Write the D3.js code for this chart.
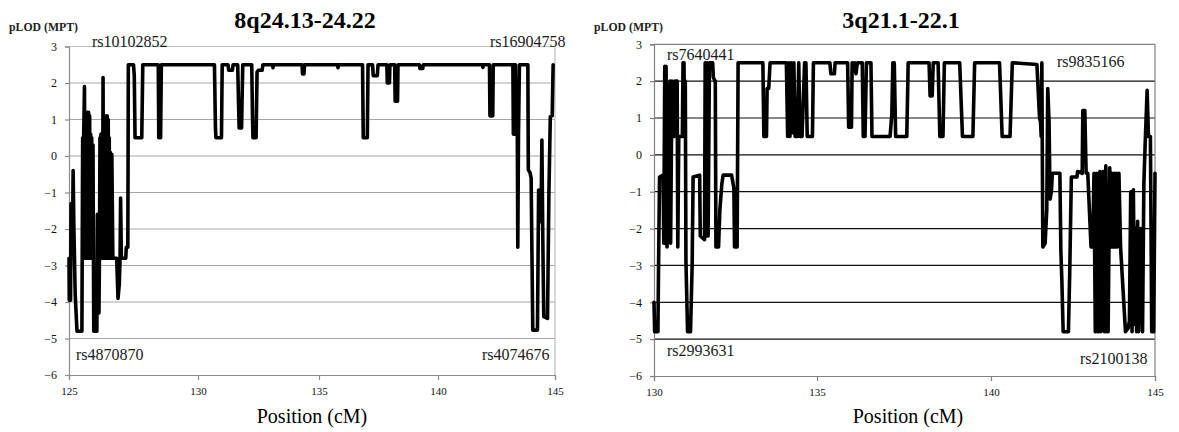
<!DOCTYPE html>
<html><head><meta charset="utf-8">
<script src="https://cdn.jsdelivr.net/npm/d3@7"></script>
<style>
body{margin:0;background:#fff;}
svg{display:block;font-family:"Liberation Serif","Times New Roman",serif;}
</style></head>
<body><svg id="c" width="1179" height="432"></svg>
<script>
// ---- data ----
const yTicks = [-6,-5,-4,-3,-2,-1,0,1,2,3];
const leftTitle = "8q24.13-24.22";
const rightTitle = "3q21.1-22.1";
const leftXTicks = [125,130,135,140,145];
const rightXTicks = [130,135,140,145];
const leftPos = [125.00,125.01,125.06,125.08,125.10,125.14,125.16,125.19,125.24,125.31,125.50,125.53,125.55,125.57,125.60,125.62,125.64,125.66,125.68,125.70,125.72,125.74,125.76,125.78,125.80,125.82,125.84,125.86,125.88,125.90,125.93,125.96,126.08,126.10,126.12,126.16,126.18,126.20,126.22,126.24,126.26,126.28,126.30,126.32,126.34,126.36,126.38,126.40,126.42,126.44,126.46,126.48,126.50,126.52,126.54,126.56,126.58,126.60,126.62,126.66,126.70,126.85,126.87,126.90,126.95,126.98,127.00,127.03,127.20,127.22,127.28,127.30,127.50,127.53,127.56,127.82,127.86,128.46,128.48,128.52,128.55,128.58,130.68,130.72,130.74,130.97,131.00,131.24,131.27,131.42,131.45,131.64,131.67,131.70,131.80,131.82,131.85,132.22,132.25,132.27,132.40,132.44,132.50,132.65,132.68,133.08,133.10,133.12,134.30,134.32,134.38,134.40,135.78,135.80,135.82,136.83,136.86,137.03,137.06,137.25,137.28,137.45,137.48,137.85,137.87,137.96,137.98,138.18,138.20,138.30,138.32,139.22,139.24,139.36,139.38,141.90,141.92,141.94,142.20,142.22,142.34,142.36,143.20,143.22,143.25,143.28,143.31,143.34,143.38,143.41,143.44,143.48,143.84,143.86,143.93,143.98,144.05,144.25,144.30,144.36,144.40,144.44,144.48,144.52,144.68,144.74,144.80,144.88,144.92];
const leftLOD = [-2.8,-3.95,-3.95,-1.3,-2.1,-2.0,-0.4,-2.0,-3.8,-4.8,-4.8,0.5,-2.8,0.6,1.9,-2.8,0.5,-2.8,1.2,-2.8,1.2,-2.6,1.2,-2.8,1.1,-2.8,0.6,-2.8,0.5,-2.8,0.3,-4.8,-4.8,-1.6,-2.8,-4.3,-2.8,0.5,-2.8,0.6,-2.8,0.6,-2.8,2.15,-2.8,0.6,-2.8,0.5,-2.8,1.1,-2.8,1.1,-2.8,1.0,-2.8,0.5,-2.8,0.1,-2.8,0.05,-2.8,-2.8,-3.3,-3.9,-3.5,-2.8,-1.15,-2.8,-2.8,-2.5,-2.5,2.5,2.5,2.2,0.5,0.5,2.5,2.5,0.5,2.3,0.5,2.5,2.5,0.8,0.5,0.5,2.5,2.5,2.35,2.35,2.5,2.5,1.6,0.77,0.77,1.5,2.5,2.5,1.2,0.5,0.5,2.3,2.35,2.35,2.5,2.5,2.42,2.5,2.5,2.25,2.25,2.5,2.5,2.42,2.5,2.5,0.5,0.5,2.5,2.5,2.2,2.2,2.5,2.5,2.0,2.0,2.5,2.5,1.5,1.5,2.5,2.5,2.4,2.4,2.5,2.5,2.43,2.5,2.5,1.1,1.1,2.5,2.5,0.6,2.5,0.6,2.5,0.6,2.0,-2.5,0.6,2.5,2.5,-0.38,-0.45,-0.6,-4.77,-4.77,-0.93,-1.0,-1.8,0.44,-2.35,-4.4,-4.45,-1.0,1.08,1.1,2.5];
const rightPos = [130.00,130.02,130.12,130.14,130.17,130.28,130.30,130.33,130.35,130.37,130.40,130.43,130.46,130.49,130.51,130.55,130.57,130.62,130.64,130.71,130.73,130.76,130.87,130.89,130.92,130.94,130.96,130.98,131.03,131.12,131.17,131.20,131.40,131.42,131.55,131.57,131.60,131.63,131.66,131.70,131.80,131.82,131.88,131.90,131.98,132.02,132.08,132.12,132.38,132.45,132.47,132.55,132.58,133.34,133.37,133.45,133.47,133.52,133.56,134.06,134.10,134.14,134.17,134.21,134.25,134.29,134.33,134.40,134.44,134.48,134.54,134.62,134.66,134.70,134.86,134.89,135.37,135.40,135.50,135.52,135.88,135.91,135.99,136.01,136.05,136.08,136.12,136.16,136.30,136.33,136.38,136.42,136.55,136.58,137.10,137.15,137.18,137.22,137.26,137.58,137.62,138.22,138.25,138.31,138.34,138.48,138.53,138.62,138.66,139.10,139.18,139.48,139.53,140.26,140.34,140.58,140.65,141.40,141.48,141.51,141.53,141.55,141.58,141.65,141.70,141.73,141.77,141.80,141.84,141.87,142.10,142.13,142.16,142.20,142.36,142.40,142.45,142.62,142.64,142.78,142.80,142.86,142.90,142.95,143.05,143.10,143.14,143.18,143.22,143.26,143.29,143.32,143.35,143.38,143.42,143.46,143.50,143.54,143.57,143.62,143.66,143.68,143.71,143.75,143.79,143.82,143.85,143.90,143.95,144.10,144.18,144.22,144.26,144.30,144.34,144.38,144.41,144.44,144.47,144.50,144.56,144.62,144.66,144.70,144.76,144.80,144.86,144.90,144.96,145.00];
const rightLOD = [-4.0,-4.8,-4.8,-3.0,-0.6,-0.55,-2.4,2.4,-2.4,2.4,-2.5,1.9,-2.3,2.0,-2.4,2.0,0.5,0.5,2.0,2.0,-2.5,0.5,0.5,2.5,2.5,0.5,2.0,-2.9,-4.8,-4.8,-3.0,-0.6,-0.55,-2.2,-2.3,2.5,-2.2,2.5,-2.2,2.5,2.5,2.1,2.0,-2.5,-2.5,-1.5,-0.8,-0.55,-0.55,-0.9,-2.5,-2.5,2.5,2.5,0.5,0.5,1.8,1.8,2.5,2.5,0.5,2.5,0.5,2.5,0.6,2.5,0.5,0.5,2.5,0.5,0.5,2.5,2.5,0.5,0.5,2.5,2.5,2.2,2.2,2.5,2.5,0.75,0.75,2.5,2.3,2.5,2.2,2.5,2.5,0.5,0.5,2.5,2.5,0.5,0.5,1.1,2.5,2.5,0.5,0.5,2.5,2.5,1.6,1.6,2.5,2.5,0.5,0.5,2.5,2.5,0.5,0.5,2.5,2.5,0.5,0.5,2.5,2.45,1.0,0.9,0.5,2.5,-2.5,-2.4,-1.5,1.8,0.9,-1.2,-1.0,-0.5,-0.5,-2.6,-3.4,-4.8,-4.8,-3.2,-0.6,-0.6,-0.45,-0.5,1.2,1.2,-0.5,-0.5,-2.5,-2.5,-0.5,-4.8,-0.5,-4.8,-4.8,-0.45,-4.8,-2.5,-0.45,-4.8,-0.3,-4.8,-4.8,-0.35,-2.5,-0.5,-2.5,-0.5,-2.5,-0.5,-2.5,-0.5,-2.5,-4.8,-4.7,-4.5,-1.0,-4.8,-0.95,-4.6,-2.0,-4.8,-1.8,-4.8,-2.0,-4.8,-0.8,0.3,1.75,0.5,0.5,-4.8,-4.8,-0.5,-0.5,-3.0];
const leftSNPs = ["rs10102852","rs16904758","rs4870870","rs4074676"];
const rightSNPs = ["rs7640441","rs9835166","rs2993631","rs2100138"];

const svg = d3.select("#c");

function panel(cfg){
  const {x, y, xTicks, pos, lod, title, titleX, gridColor, frameColor, axisColor} = cfg;
  const g = svg.append("g");
  const [x0,x1] = [x.range()[0], x.range()[x.range().length-1]];
  const [yb,yt] = y.range();
  // gridlines
  g.append("g").selectAll("line").data(yTicks.filter(d=>d>-6 && d<3)).join("line")
    .attr("x1",x0).attr("x2",x1).attr("y1",d=>y(d)).attr("y2",d=>y(d))
    .attr("stroke",gridColor).attr("stroke-width",1.2);
  // frame top/right
  g.append("line").attr("x1",x0).attr("x2",x1).attr("y1",yt).attr("y2",yt).attr("stroke",frameColor).attr("stroke-width",1.2);
  g.append("line").attr("x1",x1).attr("x2",x1).attr("y1",yt).attr("y2",yb).attr("stroke",frameColor).attr("stroke-width",1.2);
  // y axis
  const ya = g.append("g").attr("transform",`translate(${x0},0)`)
    .call(d3.axisLeft(y).tickValues(yTicks).tickSize(4).tickPadding(8).tickFormat(d3.format("d")));
  ya.select(".domain").attr("stroke",axisColor).attr("stroke-width",1.2);
  ya.selectAll(".tick line").attr("stroke",axisColor).attr("stroke-width",1.2);
  ya.selectAll("text").attr("font-family","Liberation Serif").attr("font-size",12).attr("fill","#111");
  // x axis
  const xa = g.append("g").attr("transform",`translate(0,${yb})`)
    .call(d3.axisBottom(x).tickValues(xTicks).tickSize(5).tickPadding(7).tickFormat(d3.format("d")));
  xa.select(".domain").attr("stroke",axisColor).attr("stroke-width",1.2);
  xa.selectAll(".tick line").attr("stroke",axisColor).attr("stroke-width",1.2);
  xa.selectAll("text").attr("font-family","Liberation Serif").attr("font-size",11).attr("fill","#111");
  // data line
  const pts = pos.map((p,i)=>[p,lod[i]]);
  g.append("path").datum(pts)
    .attr("d", d3.line().x(d=>x(d[0])).y(d=>y(d[1])))
    .attr("fill","none").attr("stroke","#000").attr("stroke-width",3.6)
    .attr("stroke-linejoin","round").attr("stroke-linecap","round");
  // title
  g.append("text").attr("x",titleX).attr("y",28).attr("text-anchor","middle")
    .attr("font-size",24).attr("font-weight","bold").attr("fill","#000").text(title);
  // x-axis title
  g.append("text").attr("x",titleX+7).attr("y",423).attr("text-anchor","middle")
    .attr("font-size",20).attr("fill","#000").text("Position (cM)");
  // y-axis title
  g.append("text").attr("x",cfg.ylabX).attr("y",31).attr("font-size",12)
    .attr("textLength",69).attr("lengthAdjust","spacingAndGlyphs")
    .attr("font-weight","bold").attr("fill","#222").text("pLOD (MPT)");
  // SNP labels
  g.append("g").selectAll("text").data(cfg.snps).join("text")
    .attr("x",d=>d.x).attr("y",d=>d.y).attr("font-size",16).attr("fill","#1a1a1a")
    .text(d=>d.t);
}

panel({
  x: d3.scaleLinear().domain([125,130,135,140,145]).range([69,198,319,438,555]),
  y: d3.scaleLinear().domain([-6,3]).range([375,46.5]),
  xTicks: leftXTicks, pos: leftPos, lod: leftLOD, title: leftTitle, titleX: 305,
  gridColor:"#a6a6a6", frameColor:"#bdbdbd", axisColor:"#8c8c8c", ylabX: 9,
  snps:[{t:leftSNPs[0],x:92,y:47},{t:leftSNPs[1],x:490,y:47},{t:leftSNPs[2],x:76,y:360},{t:leftSNPs[3],x:482,y:360}]
});
panel({
  x: d3.scaleLinear().domain([130,135,140,145]).range([654,817,991,1155]),
  y: d3.scaleLinear().domain([-6,3]).range([376,44.3]),
  xTicks: rightXTicks, pos: rightPos, lod: rightLOD, title: rightTitle, titleX: 901,
  gridColor:"#111", frameColor:"#808080", axisColor:"#808080", ylabX: 594,
  snps:[{t:rightSNPs[0],x:667,y:60},{t:rightSNPs[1],x:1057,y:67},{t:rightSNPs[2],x:667,y:356},{t:rightSNPs[3],x:1080,y:364}]
});
</script></body></html>
